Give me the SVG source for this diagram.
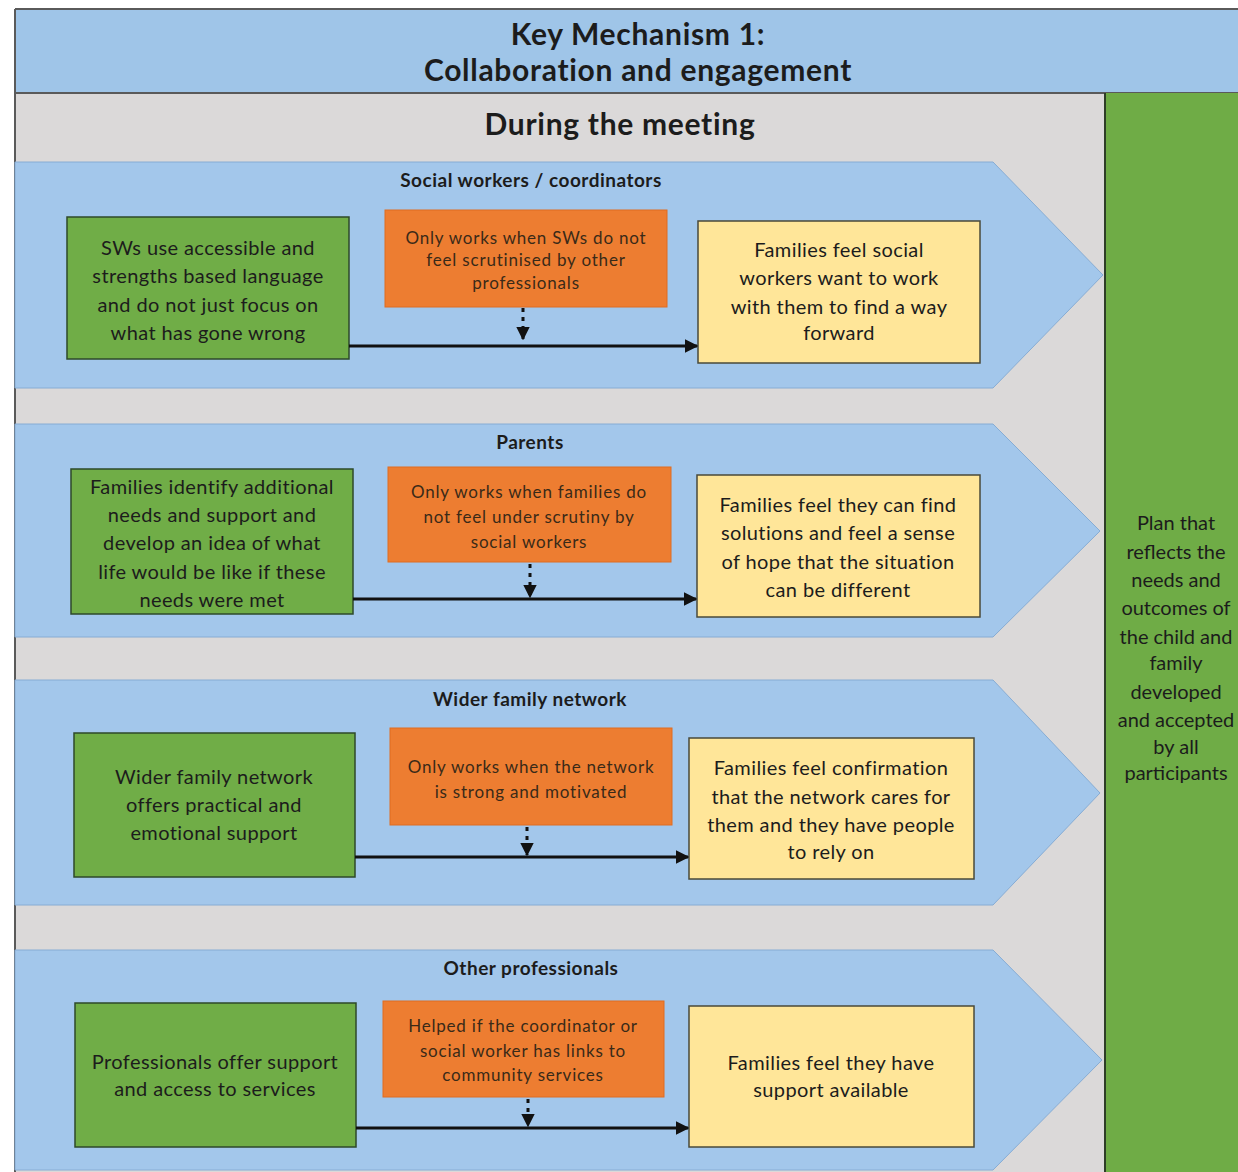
<svg xmlns="http://www.w3.org/2000/svg" width="1238" height="1172" viewBox="0 0 1238 1172">
<defs>
<style>
.t{font-family:Lato,"Open Sans","Liberation Sans",sans-serif;fill:#1c1c1c;text-anchor:middle}
.title{font-size:30px;font-weight:bold;letter-spacing:0.7px}
.sub{font-size:30px;font-weight:bold;letter-spacing:0.7px}
.lbl{font-size:19px;font-weight:bold;letter-spacing:0.5px}
.bx{font-size:20px;letter-spacing:0.4px}
.col{font-size:20px;letter-spacing:0}
.or{font-size:17px;fill:#3a2a18;letter-spacing:0.8px}
.band{fill:#a3c7eb;stroke:#86acd4;stroke-width:1}
.g{fill:#70ad47;stroke:#2e4a2a;stroke-width:1.5}
.o{fill:#ed7d31;stroke:#e06d20;stroke-width:1}
.y{fill:#ffe699;stroke:#4a4a3a;stroke-width:1.5}
.ln{stroke:#111;stroke-width:3;fill:none}
.dl{stroke:#111;stroke-width:3;fill:none;stroke-dasharray:4 5}
</style>
<marker id="ah" viewBox="0 0 10 10" refX="9" refY="5" markerWidth="4.5" markerHeight="4.5" orient="auto" markerUnits="strokeWidth">
<path d="M0,0 L10,5 L0,10 z" fill="#111"/>
</marker>
<marker id="ad" viewBox="0 0 10 10" refX="9" refY="5" markerWidth="4.5" markerHeight="4.5" orient="auto" markerUnits="strokeWidth">
<path d="M0,0 L10,5 L0,10 z" fill="#111"/>
</marker>
</defs>
<rect x="0" y="0" width="1238" height="1172" fill="#ffffff"/>
<g id="background">
<rect x="15" y="93" width="1090" height="1079" fill="#dbd9d9"/>
<rect x="15" y="9" width="1223" height="84" fill="#9fc5e8"/>
<line x1="15" y1="9" x2="1238" y2="9" stroke="#5a5a5a" stroke-width="2"/>
<line x1="15" y1="93" x2="1238" y2="93" stroke="#5a5a5a" stroke-width="2"/>
<line x1="15" y1="9" x2="15" y2="1172" stroke="#5a5a5a" stroke-width="2"/>
</g>
<g id="header">
<text class="t title" x="638" y="45">Key Mechanism 1:</text>
<text class="t title" x="638" y="81">Collaboration and engagement</text>
<text class="t sub" x="620" y="135">During the meeting</text>
</g>
<g id="band1">
<polygon class="band" points="15,162 993,162 1103,275 993,388 15,388"/>
<text class="t lbl" x="531" y="187">Social workers / coordinators</text>
</g>
<g id="band2">
<polygon class="band" points="15,424 993,424 1100,531 993,637 15,637"/>
<text class="t lbl" x="530" y="449">Parents</text>
</g>
<g id="band3">
<polygon class="band" points="15,680 993,680 1100,793 993,905 15,905"/>
<text class="t lbl" x="530" y="706">Wider family network</text>
</g>
<g id="band4">
<polygon class="band" points="15,950 993,950 1102,1060 993,1170 15,1170"/>
<text class="t lbl" x="531" y="975">Other professionals</text>
</g>
<g id="outcome">
<rect x="1105" y="93" width="133" height="1079" fill="#6fac46"/>
<line x1="1105" y1="93" x2="1105" y2="1172" stroke="#2e3e28" stroke-width="2"/>
<text class="t col" x="1176" y="530">Plan that</text>
<text class="t col" x="1176" y="559">reflects the</text>
<text class="t col" x="1176" y="587">needs and</text>
<text class="t col" x="1176" y="615">outcomes of</text>
<text class="t col" x="1176" y="644">the child and</text>
<text class="t col" x="1176" y="670">family</text>
<text class="t col" x="1176" y="699">developed</text>
<text class="t col" x="1176" y="727">and accepted</text>
<text class="t col" x="1176" y="754">by all</text>
<text class="t col" x="1176" y="780">participants</text>
</g>
<g id="r1-mech">
<rect class="g" x="67" y="217" width="282" height="142"/>
<text class="t bx" x="208" y="255">SWs use accessible and</text>
<text class="t bx" x="208" y="283">strengths based language</text>
<text class="t bx" x="208" y="312">and do not just focus on</text>
<text class="t bx" x="208" y="340">what has gone wrong</text>
</g>
<g id="r1-cond">
<rect class="o" x="385" y="210" width="282" height="97"/>
<text class="t or" x="526" y="244">Only works when SWs do not</text>
<text class="t or" x="526" y="266">feel scrutinised by other</text>
<text class="t or" x="526" y="289">professionals</text>
</g>
<g id="r1-out">
<rect class="y" x="698" y="221" width="282" height="142"/>
<text class="t bx" x="839" y="257">Families feel social</text>
<text class="t bx" x="839" y="285">workers want to work</text>
<text class="t bx" x="839" y="314">with them to find a way</text>
<text class="t bx" x="839" y="340">forward</text>
</g>
<g id="r2-mech">
<rect class="g" x="71" y="469" width="282" height="145"/>
<text class="t bx" x="212" y="494">Families identify additional</text>
<text class="t bx" x="212" y="522">needs and support and</text>
<text class="t bx" x="212" y="550">develop an idea of what</text>
<text class="t bx" x="212" y="579">life would be like if these</text>
<text class="t bx" x="212" y="607">needs were met</text>
</g>
<g id="r2-cond">
<rect class="o" x="388" y="467" width="283" height="95"/>
<text class="t or" x="529" y="498">Only works when families do</text>
<text class="t or" x="529" y="523">not feel under scrutiny by</text>
<text class="t or" x="529" y="548">social workers</text>
</g>
<g id="r2-out">
<rect class="y" x="697" y="475" width="283" height="142"/>
<text class="t bx" x="838" y="512">Families feel they can find</text>
<text class="t bx" x="838" y="540">solutions and feel a sense</text>
<text class="t bx" x="838" y="569">of hope that the situation</text>
<text class="t bx" x="838" y="597">can be different</text>
</g>
<g id="r3-mech">
<rect class="g" x="74" y="733" width="281" height="144"/>
<text class="t bx" x="214" y="784">Wider family network</text>
<text class="t bx" x="214" y="812">offers practical and</text>
<text class="t bx" x="214" y="840">emotional support</text>
</g>
<g id="r3-cond">
<rect class="o" x="390" y="728" width="282" height="97"/>
<text class="t or" x="531" y="773">Only works when the network</text>
<text class="t or" x="531" y="798">is strong and motivated</text>
</g>
<g id="r3-out">
<rect class="y" x="689" y="738" width="285" height="141"/>
<text class="t bx" x="831" y="775">Families feel confirmation</text>
<text class="t bx" x="831" y="804">that the network cares for</text>
<text class="t bx" x="831" y="832">them and they have people</text>
<text class="t bx" x="831" y="859">to rely on</text>
</g>
<g id="r4-mech">
<rect class="g" x="75" y="1003" width="281" height="144"/>
<text class="t bx" x="215" y="1069">Professionals offer support</text>
<text class="t bx" x="215" y="1096">and access to services</text>
</g>
<g id="r4-cond">
<rect class="o" x="383" y="1001" width="281" height="96"/>
<text class="t or" x="523" y="1032">Helped if the coordinator or</text>
<text class="t or" x="523" y="1057">social worker has links to</text>
<text class="t or" x="523" y="1081">community services</text>
</g>
<g id="r4-out">
<rect class="y" x="689" y="1006" width="285" height="141"/>
<text class="t bx" x="831" y="1070">Families feel they have</text>
<text class="t bx" x="831" y="1097">support available</text>
</g>
<g id="connectors">
<line class="ln" x1="349" y1="346" x2="697" y2="346" marker-end="url(#ah)"/>
<line class="dl" x1="523" y1="308" x2="523" y2="339" marker-end="url(#ad)"/>
<line class="ln" x1="353" y1="599" x2="696" y2="599" marker-end="url(#ah)"/>
<line class="dl" x1="530" y1="564" x2="530" y2="597" marker-end="url(#ad)"/>
<line class="ln" x1="355" y1="857" x2="688" y2="857" marker-end="url(#ah)"/>
<line class="dl" x1="527" y1="827" x2="527" y2="855" marker-end="url(#ad)"/>
<line class="ln" x1="356" y1="1128" x2="688" y2="1128" marker-end="url(#ah)"/>
<line class="dl" x1="528" y1="1099" x2="528" y2="1126" marker-end="url(#ad)"/>
</g>
</svg>
